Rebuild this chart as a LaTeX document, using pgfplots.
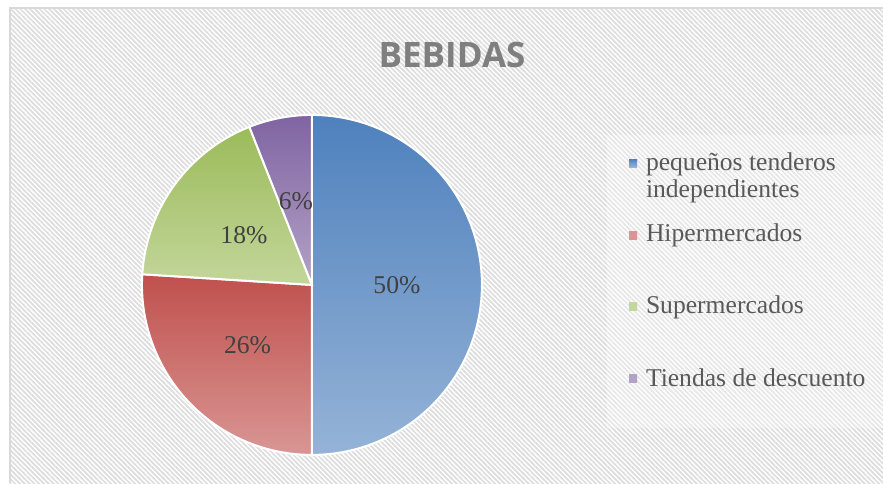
\documentclass[border=0pt]{standalone}
\usepackage{pgfplots}
\pgfplotsset{compat=1.18}
\usepackage{fontspec}
\setmainfont{Liberation Serif}
\newfontfamily\titlefont{Open Sans}
\usetikzlibrary{patterns}

\definecolor{blueT}{RGB}{79,129,189}
\definecolor{blueB}{RGB}{149,179,215}
\definecolor{redT}{RGB}{192,80,77}
\definecolor{redB}{RGB}{217,150,148}
\definecolor{greenT}{RGB}{155,187,89}
\definecolor{greenB}{RGB}{195,214,155}
\definecolor{purpT}{RGB}{128,100,162}
\definecolor{purpB}{RGB}{179,162,199}
\definecolor{titlegray}{RGB}{127,127,127}
\definecolor{labelgray}{RGB}{64,64,64}
\definecolor{legendgray}{RGB}{89,89,89}

% dense diagonal hatch for the chart background
\pgfdeclarepatternformonly{hatch}{\pgfqpoint{-1pt}{-1pt}}{\pgfqpoint{3.4pt}{3.4pt}}{\pgfqpoint{2.4pt}{2.4pt}}{
  \pgfsetlinewidth{0.75pt}
  \pgfpathmoveto{\pgfqpoint{-1pt}{3.4pt}}\pgfpathlineto{\pgfqpoint{3.4pt}{-1pt}}
  \pgfusepath{stroke}}

\begin{document}
\begin{tikzpicture}[x=1pt,y=1pt]
% canvas: 883 x 483 px, 1 px = 0.5 pt
\useasboundingbox (0,0) rectangle (441.5,-241.5);
\fill[white] (0,0) rectangle (441.5,-241.5);
\fill[pattern=hatch, pattern color=black!13] (5,-4) rectangle (441.5,-241.5);
\fill[white, opacity=0.3] (303.5,-67.5) rectangle (441.5,-214);
\draw[black!15, line width=1pt] (5,-241.5) -- (5,-4) -- (441.5,-4);

\node[font=\titlefont\bfseries\fontsize{17.5}{20}\selectfont, text=titlegray] at (226,-27.5) {BEBIDAS};

% pie centre wanted at (156pt,-142.5pt); "at" comes out scaled by 0.85 here
\begin{axis}[at={(183.5,-167.6)}, anchor=origin, scale only axis,
  width=170pt, height=170pt, xmin=-1, xmax=1, ymin=-1, ymax=1,
  hide axis, clip=false]
% shares: 50, 26, 18, 6 (%) -> 3.6 deg per %, clockwise from 90 deg
\addplot[draw=white, line width=1pt, top color=blueT, bottom color=blueB,
  domain=-90:90, samples=120] ({cos(x)},{sin(x)}) -- (axis cs:0,0) -- cycle;
\addplot[draw=white, line width=1pt, top color=redT, bottom color=redB,
  domain=176.4:270, samples=80] ({cos(x)},{sin(x)}) -- (axis cs:0,0) -- cycle;
\addplot[draw=white, line width=1pt, top color=greenT, bottom color=greenB,
  domain=111.6:176.4, samples=60] ({cos(x)},{sin(x)}) -- (axis cs:0,0) -- cycle;
\addplot[draw=white, line width=1pt, top color=purpT, bottom color=purpB,
  domain=90:111.6, samples=30] ({cos(x)},{sin(x)}) -- (axis cs:0,0) -- cycle;

\begin{scope}[every node/.style={font=\fontsize{12.8}{15}\selectfont, text=labelgray}]
\node at (axis cs:0.5,0) {50\%};
\node at (axis cs:-0.379,-0.356) {26\%};
\node at (axis cs:-0.40,0.29) {18\%};
\node at (axis cs:-0.094,0.491) {6\%};
\end{scope}
\end{axis}

% legend
\begin{scope}[every node/.style={font=\fontsize{12.8}{15}\selectfont, text=legendgray, anchor=base west, inner sep=0pt}]
\shade[top color=blueT, bottom color=blueB] (314.5,-79.5) rectangle (318.5,-83.5);
\node at (322.8,-85.35) {pequeños tenderos};
\node at (322.8,-98.5) {independientes};
\shade[top color=redB, bottom color=redB] (314.5,-115.8) rectangle (318.5,-119.8);
\node at (322.8,-120.85) {Hipermercados};
\shade[top color=greenB, bottom color=greenB] (314.5,-151.2) rectangle (318.5,-155.2);
\node at (322.8,-156.65) {Supermercados};
\shade[top color=purpB, bottom color=purpB] (314.5,-187.2) rectangle (318.5,-191.2);
\node at (322.8,-193) {Tiendas de descuento};
\end{scope}
\end{tikzpicture}
\end{document}
